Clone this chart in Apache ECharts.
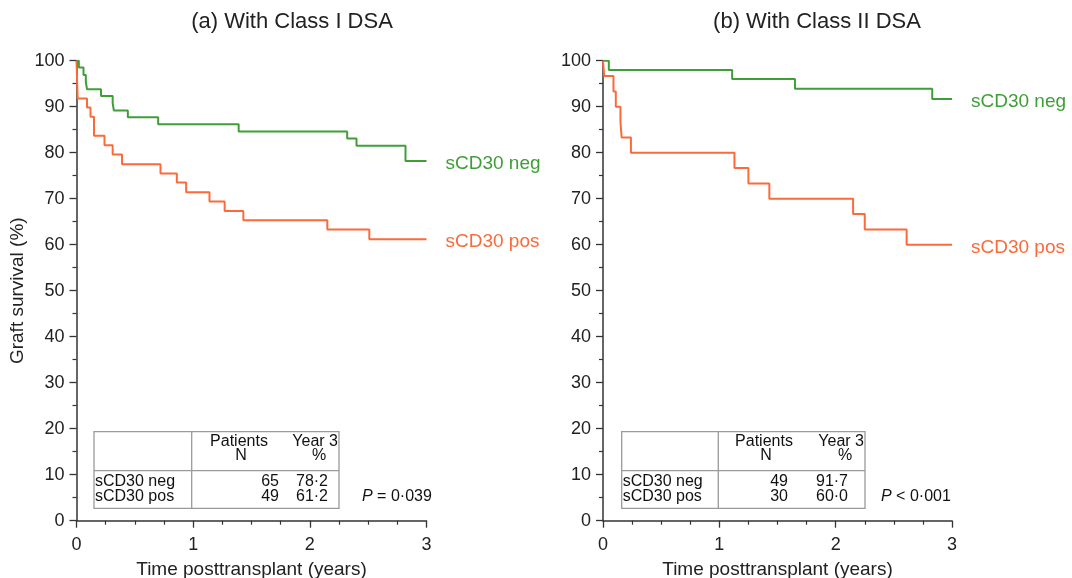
<!DOCTYPE html>
<html><head><meta charset="utf-8">
<script src="https://cdn.jsdelivr.net/npm/echarts@6/dist/echarts.min.js"></script>
<style>html,body{margin:0;padding:0;background:#fff}#c{width:1072px;height:578px}</style>
</head><body><div id="c"></div>
<script>
// ---- data ----
var titles = ['(a) With Class I DSA', '(b) With Class II DSA'];
var seriesNames = ['sCD30 neg', 'sCD30 pos'];
// Panel (a) Kaplan-Meier steps: [years, survival %]
var aNegTime = [0, 0.02, 0.06, 0.08, 0.09, 0.21, 0.31, 0.32, 0.44, 0.70, 1.39, 2.32, 2.40, 2.82, 3.0];
var aNegSurv = [100, 98.5, 96.9, 95.4, 93.8, 92.3, 90.8, 89.2, 87.7, 86.2, 84.6, 83.1, 81.5, 78.2, 78.2];
var aPosTime = [0, 0.01, 0.09, 0.12, 0.15, 0.24, 0.31, 0.39, 0.72, 0.86, 0.94, 1.14, 1.27, 1.43, 2.15, 2.51, 3.0];
var aPosSurv = [100, 91.8, 89.8, 87.8, 83.7, 81.6, 79.6, 77.5, 75.5, 73.5, 71.4, 69.4, 67.3, 65.3, 63.3, 61.2, 61.2];
// Panel (b)
var bNegTime = [0, 0.05, 1.11, 1.65, 2.83, 3.0];
var bNegSurv = [100, 98.0, 96.0, 93.9, 91.7, 91.7];
var bPosTime = [0, 0.01, 0.09, 0.11, 0.15, 0.16, 0.24, 1.13, 1.25, 1.43, 2.15, 2.25, 2.61, 3.0];
var bPosSurv = [100, 96.7, 93.3, 90.0, 86.7, 83.3, 80.0, 76.7, 73.3, 70.0, 66.7, 63.3, 60.0, 60.0];
// Tables
var tableHeader = [['Patients', 'N'], ['Year 3', '%']];
var aTableN = ['65', '49'];
var aTableY3 = ['78·2', '61·2'];
var bTableN = ['49', '30'];
var bTableY3 = ['91·7', '60·0'];
var pValues = [['P', ' = 0·039'], ['P', ' < 0·001']];
var xTicks = [0, 1, 2, 3];
var yTicks = [0, 10, 20, 30, 40, 50, 60, 70, 80, 90, 100];

// ---- styling ----
var FONT = '"Liberation Sans", Arial, Helvetica, sans-serif';
var GREEN = '#3f9e37';
var ORANGE = '#fb6a3a';
var AXIS = '#333';

function pairs(t, s) { return t.map(function (v, i) { return [v, s[i]]; }); }

var grids = [
  { left: 76.5, top: 60.7, width: 350, height: 460, containLabel: false, outerBoundsMode: 'none' },
  { left: 603, top: 60.7, width: 349, height: 460, containLabel: false, outerBoundsMode: 'none' }
];

function xAxis(idx) {
  return {
    gridIndex: idx, type: 'value', min: xTicks[0], max: xTicks[xTicks.length - 1], interval: 1,
    name: 'Time posttransplant (years)', nameLocation: 'middle', nameGap: 40,
    nameTextStyle: { fontFamily: FONT, fontSize: 19, color: '#222' },
    axisLine: { lineStyle: { color: AXIS, width: 1.5 } },
    axisTick: { length: 7, inside: false, lineStyle: { color: AXIS, width: 1.3 } },
    minorTick: { show: true, splitNumber: 4, length: 4, lineStyle: { color: AXIS, width: 1.2 } },
    axisLabel: { fontFamily: FONT, fontSize: 18, color: '#222', margin: 15 },
    splitLine: { show: false }
  };
}
function yAxis(idx) {
  var o = {
    gridIndex: idx, type: 'value', min: yTicks[0], max: yTicks[yTicks.length - 1], interval: 10,
    axisLine: { show: true, lineStyle: { color: AXIS, width: 1.5 } },
    axisTick: { show: true, length: 7, lineStyle: { color: AXIS, width: 1.3 } },
    minorTick: { show: true, splitNumber: 2, length: 4, lineStyle: { color: AXIS, width: 1.2 } },
    axisLabel: { fontFamily: FONT, fontSize: 18, color: '#222', margin: 12 },
    splitLine: { show: false }
  };
  if (idx === 0) {
    o.name = 'Graft survival (%)';
    o.nameLocation = 'middle';
    o.nameGap = 49;
    o.nameTextStyle = { fontFamily: FONT, fontSize: 19, color: '#222' };
  }
  return o;
}
function km(idx, name, t, s, color) {
  return {
    type: 'line', name: name, xAxisIndex: idx, yAxisIndex: idx, step: 'end',
    data: pairs(t, s), showSymbol: false, symbol: 'none', animation: false,
    lineStyle: { color: color, width: 2 }, itemStyle: { color: color },
    endLabel: { show: true, formatter: name, color: color, fontFamily: FONT, fontSize: 19, distance: 19, offset: [0, 3] }
  };
}

function table(x0, divX, boxR, patC, yearR, nRight, yRight, nVals, yVals, pX, pv) {
  var top = 431.7, bot = 508.3, mid = 470.7;
  var ts = { fontFamily: FONT, fontSize: 16, fill: '#111' };
  function txt(x, y, s, align) {
    return { type: 'text', x: x, y: y, style: Object.assign({ text: s, textAlign: align, textVerticalAlign: 'middle' }, ts) };
  }
  var ln = { stroke: '#9a9a9a', lineWidth: 1.3 };
  return [
    { type: 'rect', shape: { x: x0, y: top, width: boxR - x0, height: bot - top }, style: { fill: 'none', stroke: '#9a9a9a', lineWidth: 1.3 } },
    { type: 'line', shape: { x1: divX, y1: top, x2: divX, y2: bot }, style: ln },
    { type: 'line', shape: { x1: x0, y1: mid, x2: boxR, y2: mid }, style: ln },
    txt(patC, 442, tableHeader[0][0], 'center'),
    txt(patC + 2, 456, tableHeader[0][1], 'center'),
    txt(yearR, 442, tableHeader[1][0], 'right'),
    txt(yearR - 19, 456, tableHeader[1][1], 'center'),
    txt(x0 + 1, 482, seriesNames[0], 'left'),
    txt(x0 + 1, 497, seriesNames[1], 'left'),
    txt(nRight, 482, nVals[0], 'right'),
    txt(nRight, 497, nVals[1], 'right'),
    txt(yRight, 482, yVals[0], 'right'),
    txt(yRight, 497, yVals[1], 'right'),
    { type: 'text', x: pX, y: 497, style: { text: '{i|' + pv[0] + '}' + pv[1], textAlign: 'left', textVerticalAlign: 'middle', fontFamily: FONT, fontSize: 16, fill: '#111', rich: { i: { fontStyle: 'italic', fontFamily: FONT, fontSize: 16 } } } }
  ];
}

var chart = echarts.init(document.getElementById('c'), null, { renderer: 'canvas' });
chart.setOption({
  backgroundColor: '#fff',
  animation: false,
  title: [
    { text: titles[0], left: 287, top: 6, textAlign: 'center', textStyle: { fontFamily: FONT, fontSize: 22, fontWeight: 'normal', color: '#222' } },
    { text: titles[1], left: 812, top: 6, textAlign: 'center', textStyle: { fontFamily: FONT, fontSize: 22, fontWeight: 'normal', color: '#222' } }
  ],
  grid: grids,
  xAxis: [xAxis(0), xAxis(1)],
  yAxis: [yAxis(0), yAxis(1)],
  series: [
    km(0, seriesNames[0], aNegTime, aNegSurv, GREEN),
    km(0, seriesNames[1], aPosTime, aPosSurv, ORANGE),
    km(1, seriesNames[0], bNegTime, bNegSurv, GREEN),
    km(1, seriesNames[1], bPosTime, bPosSurv, ORANGE)
  ],
  graphic: [].concat(
    table(94, 191.7, 339, 239, 338, 279, 328, aTableN, aTableY3, 362, pValues[0]),
    table(621.7, 718.3, 865, 764, 864, 788, 848, bTableN, bTableY3, 881, pValues[1])
  )
});
</script></body></html>
